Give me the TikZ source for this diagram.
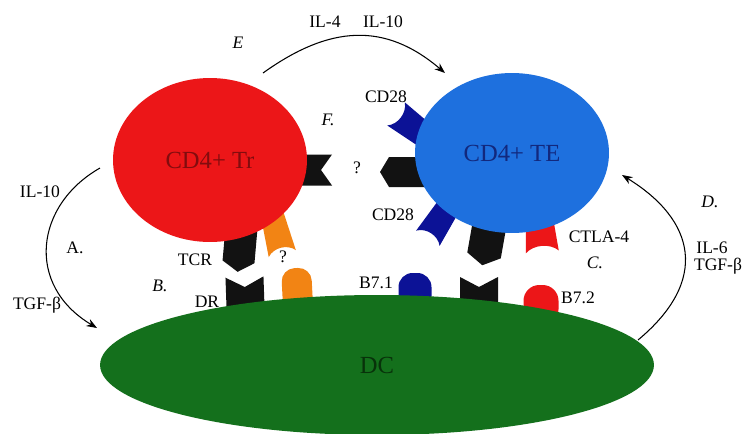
\documentclass[tikz,border=0pt]{standalone}
\usepackage{fontspec}
\setmainfont{Liberation Serif}
\usetikzlibrary{arrows.meta,shapes.geometric}

\definecolor{cRed}{RGB}{236,22,24}
\definecolor{cBlue}{RGB}{30,112,222}
\definecolor{cGreen}{RGB}{20,112,28}
\definecolor{cNavy}{RGB}{12,18,150}
\definecolor{cOrange}{RGB}{242,132,20}
\definecolor{cInk}{RGB}{18,18,18}
\definecolor{cRedTxt}{RGB}{130,12,14}
\definecolor{cBlueTxt}{RGB}{18,40,125}
\definecolor{cGreenTxt}{RGB}{8,50,10}

% receptor shapes: base point (#1,#2), pointing at angle #3, length #4, width #5
% notched tab with a V cut at the outer end (depth #6)
\newcommand\rcNotch[7]{%
  \fill[#7,shift={(#1,#2)},rotate=#3]
    (0,{-#5/2}) -- ({#4},{-#5/2}) -- ({#4-#6},0) -- ({#4},{#5/2}) -- (0,{#5/2}) -- cycle;}
% cup with a rounded hollow at the outer end (depth #6)
\newcommand\rcCup[7]{%
  \fill[#7,shift={(#1,#2)},rotate=#3]
    (0,{-0.4*#5}) -- ({#4},{-#5/2})
    .. controls ({#4-#6},{-#5/4}) and ({#4-#6},{#5/4}) .. ({#4},{#5/2})
    -- (0,{0.4*#5}) -- cycle;}
% pointed tab (depth of point #6)
\newcommand\rcPoint[7]{%
  \fill[#7,shift={(#1,#2)},rotate=#3]
    (0,{-#5/2}) -- ({#4-#6},{-#5/2}) -- ({#4},0) -- ({#4-#6},{#5/2}) -- (0,{#5/2}) -- cycle;}
% rounded bump (corner radius #6)
\newcommand\rcBump[7]{%
  \fill[#7,shift={(#1,#2)},rotate=#3,rounded corners=#6]
    (0,{-#5/2}) rectangle ({#4},{#5/2});}

\tikzset{
  lbl/.style={font=\fontsize{10}{12}\selectfont, inner sep=0pt},
  tag/.style={lbl, font=\fontsize{10}{12}\selectfont\itshape},
  cell/.style={ellipse, inner sep=0pt, font=\fontsize{14}{16}\selectfont},
  flow/.style={line width=0.6pt, -{Stealth[length=6pt,width=4.5pt]}},
}

\begin{document}
\begin{tikzpicture}[x=0.02cm,y=-0.02cm]
\useasboundingbox (0,0) rectangle (747,433);
\fill[white] (0,0) rectangle (747,433);

% ---- receptors on the regulatory cell ----
\rcNotch{292}{170}{0}{40}{31}{11}{cInk}
\rcPoint{242}{222}{265}{50}{32}{10}{cInk}
\rcCup{271}{210}{284.5}{45}{28}{8}{cOrange}

% ---- receptors on the effector cell ----
\rcPoint{428}{172}{180}{48}{30}{9}{cInk}
\rcCup{436}{144}{143}{50}{29}{8}{cNavy}
\rcCup{454}{198}{237}{48}{28}{8}{cNavy}
\rcPoint{491}{216}{260}{50}{34}{10}{cInk}
\rcCup{539}{214}{275}{38}{33}{8}{cRed}

% ---- receptors on the dendritic cell ----
\rcNotch{246}{321}{92}{44}{38}{10}{cInk}
\rcBump{298.5}{315}{93}{47}{30}{7.5pt}{cOrange}
\rcBump{415}{310}{90}{37}{33}{8pt}{cNavy}
\rcNotch{479}{318}{90}{41}{38}{10}{cInk}
\rcBump{541}{325}{90}{40}{35}{9pt}{cRed}

% ---- cells ----
\node[cell, fill=cRed, text=cRedTxt, minimum width=3.88cm, minimum height=3.28cm]
  (treg) at (210,160) {CD4+ Tr};
\node[cell, fill=cBlue, text=cBlueTxt, minimum width=3.88cm, minimum height=3.2cm]
  (teff) at (512,153) {CD4+ TE};
\node[cell, fill=cGreen, text=cGreenTxt, minimum width=11.08cm, minimum height=2.8cm]
  (dc) at (377,365) {DC};

% ---- cytokine arrows ----
\coordinate (eS) at (263,73);
\coordinate (eT) at (445,73);
\coordinate (aS) at (100,168);
\coordinate (aT) at (97,328);
\coordinate (dS) at (638,340);
\coordinate (dT) at (622,175);
\draw[flow] (eS) .. controls (330,25) and (385,22) .. (eT);
\draw[flow] (aS) .. controls (35,205) and (25,285) .. (aT);
\draw[flow] (dS) .. controls (710,280) and (695,220) .. (dT);

% ---- labels ----
\node[lbl] (il4) at (325,22) {IL-4};
\node[lbl] (il10t) at (383,22) {IL-10};
\node[tag] (tE) at (238,43) {E};
\node[tag] (tF) at (328,120) {F.};
\node[lbl] (q1) at (357,168) {?};
\node[lbl] (q2) at (283,257) {?};
\node[lbl] (cd28a) at (386,97) {CD28};
\node[lbl] (cd28b) at (393,215) {CD28};
\node[lbl] (ctla) at (599,237) {CTLA-4};
\node[tag] (tC) at (595,263) {C.};
\node[tag] (tD) at (710,202) {D.};
\node[lbl] (il6) at (712,248) {IL-6};
\node[lbl] (tgfr) at (718,266) {TGF-β};
\node[lbl] (il10l) at (40,192) {IL-10};
\node[lbl] (tA) at (75,248) {A.};
\node[lbl] (tgfl) at (37,305) {TGF-β};
\node[lbl] (tcr) at (195,260) {TCR};
\node[tag] (tB) at (160,286) {B.};
\node[lbl] (dr) at (207,302) {DR};
\node[lbl] (b71) at (376,283) {B7.1};
\node[lbl] (b72) at (578,298) {B7.2};
\end{tikzpicture}
\end{document}
